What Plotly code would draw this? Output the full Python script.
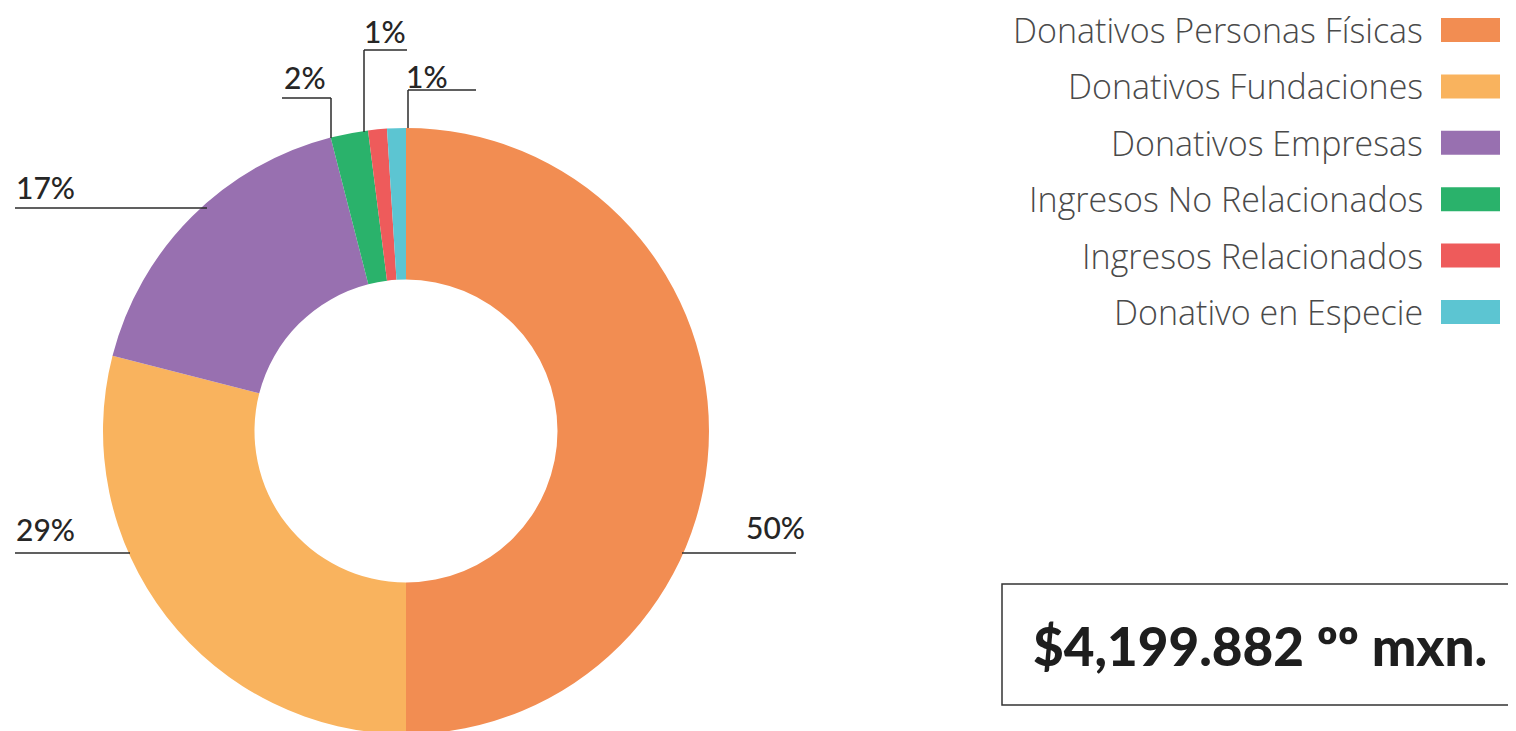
import plotly.graph_objects as go

# ---- data ----
categories = [
    "Donativos Personas Físicas",
    "Donativos Fundaciones",
    "Donativos Empresas",
    "Ingresos No Relacionados",
    "Ingresos Relacionados",
    "Donativo en Especie",
]
percentages = [50, 29, 17, 2, 1, 1]
colors = ["#F28D52", "#F9B35E", "#9870B0", "#2AB26B", "#EE5B5B", "#5CC5D2"]
total_text = "$4,199.882 ºº mxn."

# figure size (page has an 8px body margin)
OFF = 8
W, H = 1508, 730


def px(x):
    return (x - OFF) / W


def py(y):
    return 1 - (y - OFF) / H


fig = go.Figure()
fig.add_trace(go.Pie(
    labels=categories,
    values=percentages,
    marker=dict(colors=colors, line=dict(width=0)),
    hole=0.5,
    sort=False,
    direction="clockwise",
    rotation=0,
    textinfo="none",
    hoverinfo="label+percent",
    showlegend=False,
    domain=dict(x=[px(103), px(709)], y=[py(734), py(128)]),
))

shapes = []
annotations = []
line_style = dict(color="#2b2b2b", width=1.5)
pct_font = dict(family="Lato, sans-serif", size=30, color="#262626", weight=500)

# label layout: (text x, text y, anchor, leader-line polyline points)
label_layout = [
    (807, 527, "right", [(682, 553), (796, 553)]),
    (14, 529, "left", [(15, 553), (130, 553)]),
    (14, 187, "left", [(15, 208), (207, 208)]),
    (282, 77, "left", [(282, 98), (331, 98), (331, 138)]),
    (362, 31, "left", [(364, 132), (364, 50), (407, 50)]),
    (404, 76, "left", [(408, 128), (408, 90), (476, 90)]),
]
for val, (tx, ty, anc, pts) in zip(percentages, label_layout):
    annotations.append(dict(
        x=px(tx), y=py(ty), xref="paper", yref="paper",
        text=f"{val}%", showarrow=False, xanchor=anc, yanchor="middle",
        font=pct_font,
    ))
    for (x0, y0), (x1, y1) in zip(pts[:-1], pts[1:]):
        shapes.append(dict(type="line", xref="paper", yref="paper",
                           x0=px(x0), y0=py(y0), x1=px(x1), y1=py(y1),
                           line=line_style))

# custom legend: text right-aligned, swatch on the right
leg_font = dict(family="Open Sans, sans-serif", size=34, color="#4a4a4a", weight=300)
row_y0, row_step = 30, 56.4
for i, (cat, col) in enumerate(zip(categories, colors)):
    yc = row_y0 + i * row_step
    annotations.append(dict(
        x=px(1425), y=py(yc), xref="paper", yref="paper",
        text=cat, showarrow=False, xanchor="right", yanchor="middle",
        font=leg_font,
    ))
    shapes.append(dict(type="rect", xref="paper", yref="paper",
                       x0=px(1441), x1=px(1500), y0=py(yc - 12), y1=py(yc + 12),
                       fillcolor=col, line=dict(width=0)))

# total box
shapes.append(dict(type="rect", xref="paper", yref="paper",
                   x0=px(1002), x1=px(1512), y0=py(705), y1=py(584),
                   fillcolor="rgba(0,0,0,0)", line=dict(color="#333333", width=1.5)))
annotations.append(dict(
    x=px(1260), y=py(645), xref="paper", yref="paper",
    text=total_text, showarrow=False, xanchor="center", yanchor="middle",
    font=dict(family="Lato, sans-serif", size=53, color="#1e1e1e", weight=900),
))

fig.update_layout(
    width=W, height=H,
    margin=dict(l=0, r=0, t=0, b=0),
    paper_bgcolor="white",
    plot_bgcolor="white",
    shapes=shapes,
    annotations=annotations,
    showlegend=False,
)

fig.write_html("out.html")
